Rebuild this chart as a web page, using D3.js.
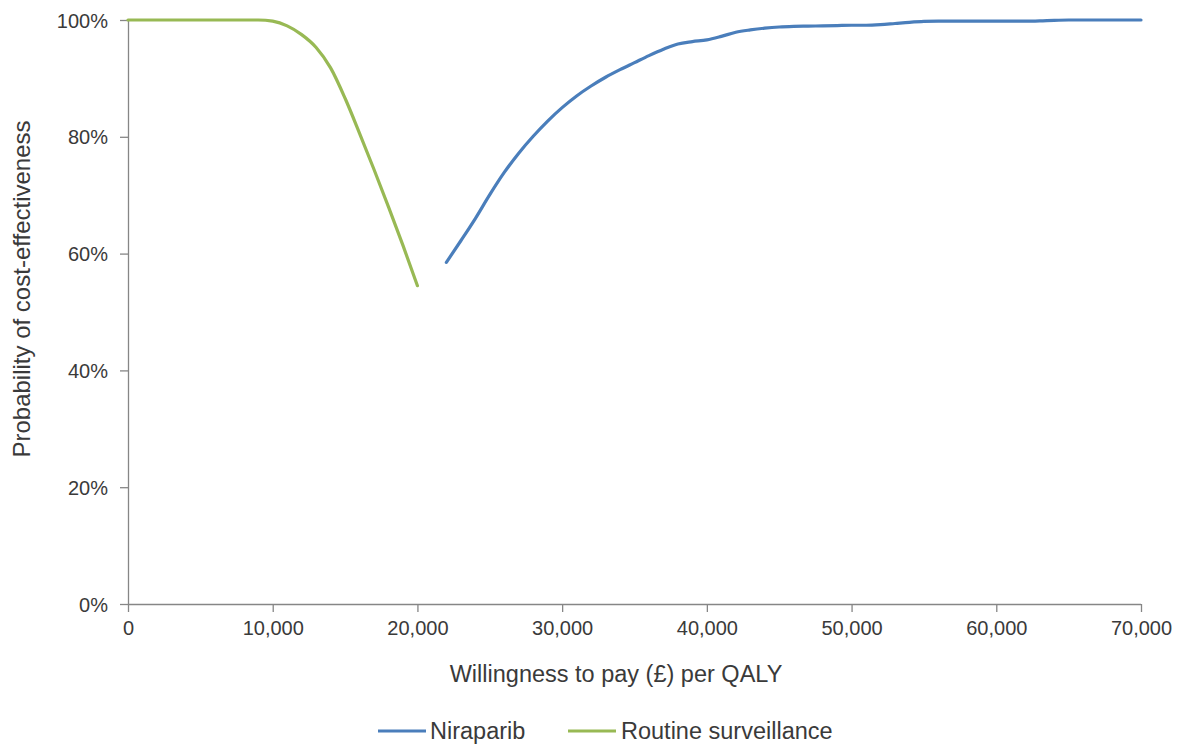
<!DOCTYPE html>
<html><head><meta charset="utf-8">
<script src="https://cdn.jsdelivr.net/npm/d3@7"></script>
<style>body{margin:0;background:#fff}text{font-family:"Liberation Sans",Arial,sans-serif;fill:#3a3a3a}</style>
</head><body><svg id="c" width="1183" height="744"></svg>
<script>
const xTicks = [0,10000,20000,30000,40000,50000,60000,70000];
const yTicks = [0,0.2,0.4,0.6,0.8,1.0];
const routineX = [0,1000,2000,3000,4000,5000,6000,7000,8000,9000,10000,11000,12000,13000,14000,15000,16000,17000,18000,19000,20000];
const routineY = [100,100,100,100,100,100,100,100,100,100,99.8,99.0,97.5,95.3,91.8,86.6,80.6,74.4,68.0,61.4,54.5];
const niraX = [22000,23000,24000,25000,26000,27000,28000,29000,30000,31000,32000,33000,34000,35000,36000,37000,38000,39000,40000,41000,42000,43000,44000,45000,46000,47000,48000,49000,50000,51000,52000,53000,54000,55000,56000,57000,58000,59000,60000,61000,62000,63000,64000,65000,66000,67000,68000,69000,70000];
const niraY = [58.5,62.2,66.0,70.1,73.9,77.2,80.1,82.7,85.0,87.0,88.7,90.2,91.5,92.7,93.9,95.0,95.9,96.3,96.6,97.2,97.9,98.3,98.6,98.8,98.9,98.95,99.0,99.05,99.1,99.1,99.2,99.4,99.6,99.75,99.8,99.8,99.8,99.8,99.8,99.8,99.8,99.85,99.95,100,100,100,100,100,100];
const seriesNames = ["Niraparib","Routine surveillance"];
const colors = ["#4A7EBB","#98B954"];

const svg = d3.select("#c");
const L=128,R=1141,T=20,B=604;
const x = d3.scaleLinear().domain([0,70000]).range([L,R]);
const y = d3.scaleLinear().domain([0,1]).range([B,T]);
const axisColor="#868686";

const xa = svg.append("g").attr("transform",`translate(0,${B})`)
  .call(d3.axisBottom(x).tickValues(xTicks).tickSize(8).tickPadding(9).tickFormat(d=>d===0?"0":d3.format(",")(d)));
const ya = svg.append("g").attr("transform",`translate(${L},0)`)
  .call(d3.axisLeft(y).tickValues(yTicks).tickSize(8).tickPadding(12).tickFormat(d3.format(".0%")));
[xa,ya].forEach(a=>{a.selectAll("path,line").attr("stroke",axisColor).attr("stroke-width",1.3);
  a.selectAll("text").style("font-size","20px").style("font-family","Liberation Sans, Arial, sans-serif").attr("fill","#3a3a3a");});
xa.select(".domain").attr("d",`M${L},0.5H${R}`);
ya.select(".domain").attr("d",`M0.5,${B}V${T}`);
ya.selectAll("text").attr("dy","0.35em");

const line = d3.line().x(d=>x(d[0])).y(d=>y(d[1]/100)).curve(d3.curveMonotoneX);
const nira = niraX.map((v,i)=>[v,niraY[i]]);
const rout = routineX.map((v,i)=>[v,routineY[i]]);
svg.append("path").datum(nira).attr("d",line).attr("fill","none").attr("stroke",colors[0]).attr("stroke-width",3.2).attr("stroke-linecap","round");
svg.append("path").datum(rout).attr("d",line).attr("fill","none").attr("stroke",colors[1]).attr("stroke-width",3.2).attr("stroke-linecap","round");

svg.append("text").attr("x",616).attr("y",682).attr("text-anchor","middle").style("font-size","23.5px").text("Willingness to pay (£) per QALY");
svg.append("text").attr("transform",`translate(30,289) rotate(-90)`).attr("text-anchor","middle").style("font-size","24px").text("Probability of cost-effectiveness");

const leg = [{x:378,tx:430},{x:568,tx:621}];
leg.forEach((l,i)=>{
  svg.append("line").attr("x1",l.x).attr("x2",l.x+48).attr("y1",731).attr("y2",731).attr("stroke",colors[i]).attr("stroke-width",3.2);
  svg.append("text").attr("x",l.tx).attr("y",739).style("font-size","23.5px").text(seriesNames[i]);
});
</script></body></html>
